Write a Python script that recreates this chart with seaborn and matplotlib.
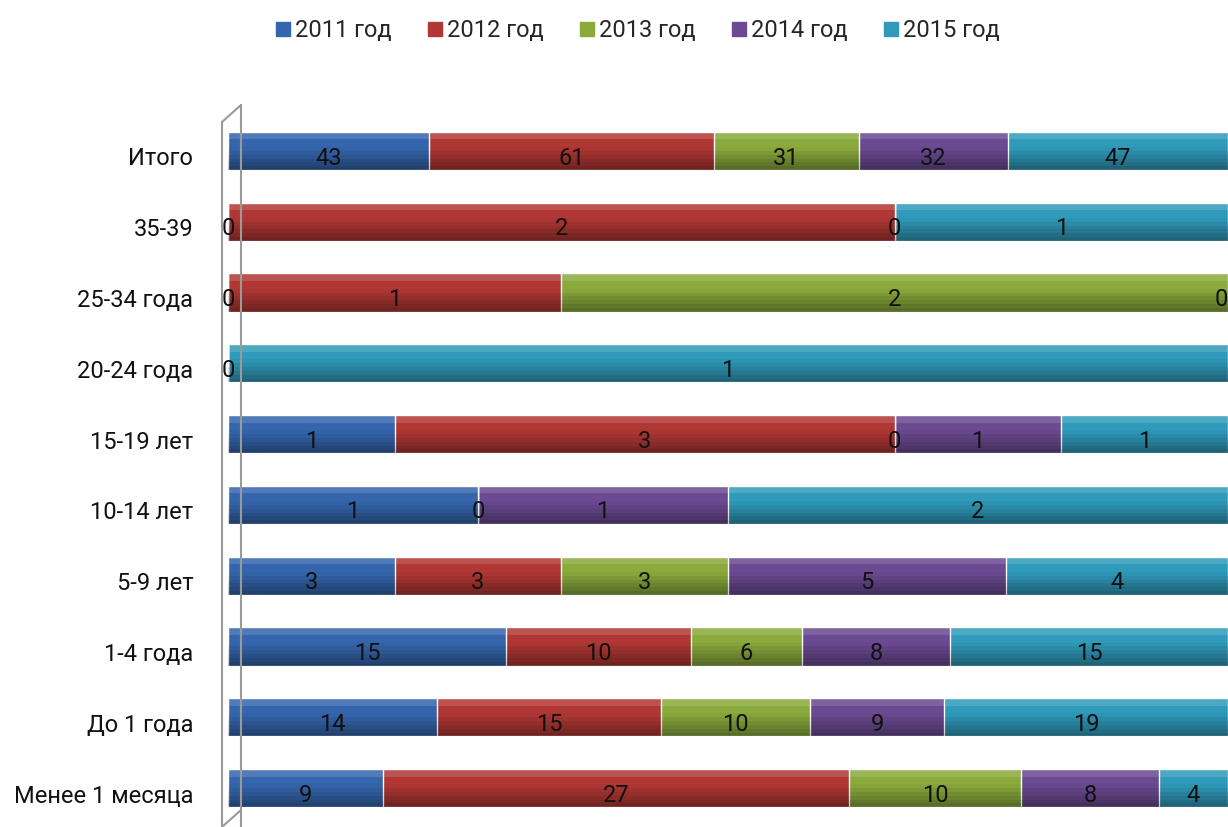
import numpy as np
import pandas as pd
import seaborn as sns
import matplotlib.pyplot as plt
from matplotlib.lines import Line2D
from matplotlib.transforms import ScaledTranslation

sns.set_theme(style="white")
plt.rcParams['font.family'] = ['Roboto', 'DejaVu Sans']

nan = np.nan
categories = ["Итого", "35-39", "25-34 года", "20-24 года", "15-19 лет",
              "10-14 лет", "5-9 лет", "1-4 года", "До 1 года", "Менее 1 месяца"]
years = ["2011 год", "2012 год", "2013 год", "2014 год", "2015 год"]
y2011 = [43, 0, 0, nan, 1, 1, 3, 15, 14, 9]
y2012 = [61, 2, 1, nan, 3, nan, 3, 10, 15, 27]
y2013 = [31, 0, 2, 0, 0, 0, 3, 6, 10, 10]
y2014 = [32, nan, 0, nan, 1, 1, 5, 8, 9, 8]
y2015 = [47, 1, nan, 1, 1, 2, 4, 15, 19, 4]
colors = ["#3566AD", "#B13734", "#8AAA3C", "#6B4A92", "#2F9ABA"]

vals = np.array([y2011, y2012, y2013, y2014, y2015], dtype=float)
share = np.nan_to_num(vals) / np.nansum(vals, axis=0)
ends = np.cumsum(share, axis=0)
starts = ends - share

FS = 17
BAR_W = 0.54

fig = plt.figure(figsize=(12.28, 8.27), dpi=100)
ax = fig.add_axes([228 / 1228, 0.0, 1 - 228 / 1228, 1 - 112 / 827])

# cumulative bars, last year first so the earlier years sit on top
for i in range(len(years) - 1, -1, -1):
    df = pd.DataFrame({"cat": categories, "end": ends[i]})
    sns.barplot(data=df, x="end", y="cat", order=categories, color=colors[i],
                orient="h", width=BAR_W, saturation=1, ax=ax, zorder=2)

# cylinder-like shading, drawn per segment
n_strips = 10
pos = np.arange(len(categories))
for i in range(len(years)):
    for k in range(n_strips):
        frac0 = k / n_strips
        shade = (frac0 - 0.35) / 0.65
        if frac0 < 0.12:
            col, a = "white", 0.14
        elif shade > 0:
            col, a = "black", 0.42 * shade
        else:
            continue
        ax.barh(pos - BAR_W / 2 + BAR_W * (frac0 + 0.5 / n_strips), share[i],
                left=starts[i], height=BAR_W / n_strips, color=col, alpha=a,
                lw=0, antialiased=False, zorder=2.5)
    # thin separators between segments
    has = share[i] > 0
    ax.vlines(starts[i][has], pos[has] - BAR_W / 2, pos[has] + BAR_W / 2,
              color="white", lw=0.6, alpha=0.5, zorder=2.6)

# value labels (zeros sit on the segment boundary, like Excel)
for i in range(len(years)):
    for j, cat in enumerate(categories):
        v = vals[i, j]
        if np.isnan(v):
            continue
        xc = starts[i, j] + share[i, j] / 2
        ha = "right" if xc > 0.995 else "center"
        ax.text(xc, j + 0.1, f"{int(v)}", ha=ha, va="center",
                fontsize=FS, color="#111111", zorder=5)

ax.set_xlim(0, 1)
ax.set_ylim(9.55, -0.55)
ax.set_xlabel("")
ax.set_ylabel("")
ax.set_xticks([])
ax.tick_params(axis="y", length=0, pad=25, labelsize=FS, colors="#111111")
for s in ax.spines.values():
    s.set_visible(False)
for t in ax.yaxis.get_major_ticks():
    t.label1.set_transform(t.label1.get_transform() +
                           ScaledTranslation(0, -4 / 72, fig.dpi_scale_trans))

# 3D wall outline on the left
wall = dict(color="#9a9a9a", lw=1.5, transform=fig.transFigure, clip_on=False)
x1, x2 = 222 / 1228, 241 / 1228
fig.add_artist(Line2D([x1, x1], [1 - 122 / 827, 0], **wall))
fig.add_artist(Line2D([x2, x2], [1 - 105 / 827, 0], **wall))
fig.add_artist(Line2D([x1, x2], [1 - 122 / 827, 1 - 105 / 827], **wall))
fig.add_artist(Line2D([x1, x2], [0, 1 - 810 / 827], **wall))

handles = [Line2D([], [], marker="s", ls="", markersize=10, color=c,
                  markeredgecolor=c) for c in colors]
fig.legend(handles, years, loc="center", bbox_to_anchor=(0.518, 0.963), ncol=5,
           frameon=False, fontsize=FS, handletextpad=0.05, columnspacing=1.4,
           handlelength=0.9)

fig.savefig("out.png", dpi=100)
